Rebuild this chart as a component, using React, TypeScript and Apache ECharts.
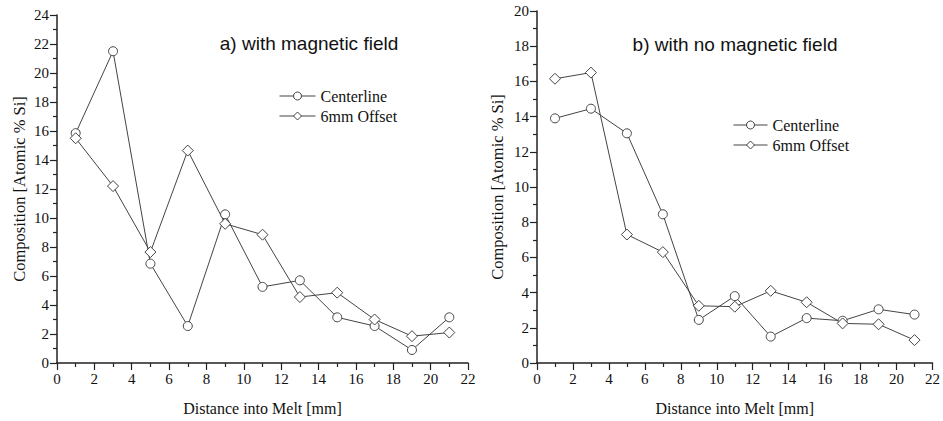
import React, { useEffect, useRef } from "react";
import * as echarts from "echarts";

const distances = [1, 3, 5, 7, 9, 11, 13, 15, 17, 19, 21];
const withFieldCenterline = [15.85, 21.5, 6.85, 2.55, 10.25, 5.25, 5.7, 3.15, 2.55, 0.9, 3.15];
const withFieldOffset = [15.5, 12.2, 7.65, 14.65, 9.6, 8.85, 4.55, 4.85, 3.0, 1.85, 2.1];
const noFieldCenterline = [13.9, 14.45, 13.05, 8.45, 2.45, 3.8, 1.5, 2.55, 2.4, 3.05, 2.75];
const noFieldOffset = [16.15, 16.5, 7.3, 6.3, 3.25, 3.2, 4.1, 3.45, 2.25, 2.2, 1.3];
const seriesNames = ["Centerline", "6mm Offset"];
const titles = ["a) with magnetic field", "b) with no magnetic field"];
const xName = "Distance into Melt [mm]";
const yName = "Composition [Atomic % Si]";

const SERIF = "Liberation Serif";
const SANS = "Liberation Sans";
const INK = "#444444";

function pairs(ys: number[]) {
  return distances.map((x, i) => [x, ys[i]]);
}

function makeX(gridIndex: number, gap: number) {
  return {
    type: "value",
    gridIndex,
    min: 0,
    max: 22,
    interval: 2,
    name: xName,
    nameLocation: "middle",
    nameGap: gap,
    nameTextStyle: { fontFamily: SERIF, fontSize: 16, color: "#111" },
    axisLine: { show: true, onZero: false, lineStyle: { color: "#222", width: 1.5 } },
    axisTick: { show: true, length: 7, lineStyle: { color: "#222", width: 1.2 } },
    minorTick: { show: true, splitNumber: 2, length: 4, lineStyle: { color: "#222", width: 1.2 } },
    axisLabel: { fontFamily: SERIF, fontSize: 15, color: "#111", margin: 8 },
    splitLine: { show: false },
  };
}

function makeY(gridIndex: number, max: number, gap: number) {
  return {
    type: "value",
    gridIndex,
    min: 0,
    max,
    interval: 2,
    name: yName,
    nameLocation: "middle",
    nameGap: gap,
    nameTextStyle: { fontFamily: SERIF, fontSize: 16.5, color: "#111" },
    axisLine: { show: true, onZero: false, lineStyle: { color: "#222", width: 1.5 } },
    axisTick: { show: true, length: 7, lineStyle: { color: "#222", width: 1.2 } },
    minorTick: { show: true, splitNumber: 2, length: 4, lineStyle: { color: "#222", width: 1.2 } },
    axisLabel: { fontFamily: SERIF, fontSize: 15, color: "#111", margin: 8 },
    splitLine: { show: false },
  };
}

function makeSeries(name: string, ys: number[], idx: number, diamond: boolean) {
  return {
    type: "line",
    name,
    xAxisIndex: idx,
    yAxisIndex: idx,
    data: pairs(ys),
    symbol: diamond ? "diamond" : "circle",
    symbolSize: diamond ? [11, 11] : 9,
    showSymbol: true,
    itemStyle: { color: "#fff", borderColor: INK, borderWidth: 1 },
    lineStyle: { color: INK, width: 1 },
    emphasis: { disabled: true },
  };
}

function makeLegend(left: number, top: number, itemWidth: number) {
  return {
    left,
    top,
    orient: "vertical",
    itemWidth,
    itemHeight: 10,
    itemGap: 4,
    data: seriesNames,
    itemStyle: { color: "#fff", borderColor: INK, borderWidth: 1 },
    lineStyle: { color: INK, width: 1 },
    textStyle: { fontFamily: SERIF, fontSize: 16, color: "#111" },
    selectedMode: false,
  };
}

export default function App() {
  const ref = useRef<HTMLDivElement>(null);
  useEffect(() => {
    if (!ref.current) return;
    const chart = echarts.init(ref.current, undefined, { renderer: "svg" });
    chart.setOption({
      animation: false,
      backgroundColor: "#fff",
      grid: [
        { left: 57, top: 15, right: 475, bottom: 54, containLabel: false },
        { left: 537, top: 11, right: 7, bottom: 58, containLabel: false },
      ],
      xAxis: [makeX(0, 37), makeX(1, 37)],
      yAxis: [makeY(0, 24, 29), makeY(1, 20, 31)],
      legend: [makeLegend(274, 83, 36), makeLegend(728, 112, 34)],
      graphic: [
        {
          type: "text",
          x: 309,
          y: 43,
          style: {
            text: titles[0],
            fontFamily: SANS,
            fontSize: 19,
            fill: "#111",
            textAlign: "center",
            textVerticalAlign: "middle",
          },
        },
        {
          type: "text",
          x: 735,
          y: 44,
          style: {
            text: titles[1],
            fontFamily: SANS,
            fontSize: 19,
            fill: "#111",
            textAlign: "center",
            textVerticalAlign: "middle",
          },
        },
      ],
      series: [
        makeSeries(seriesNames[0], withFieldCenterline, 0, false),
        makeSeries(seriesNames[1], withFieldOffset, 0, true),
        makeSeries(seriesNames[0], noFieldCenterline, 1, false),
        makeSeries(seriesNames[1], noFieldOffset, 1, true),
      ],
    });
    return () => chart.dispose();
  }, []);
  return (
    <div
      ref={ref}
      style={{ position: "absolute", left: 0, top: 0, width: 943, height: 421 }}
    />
  );
}
